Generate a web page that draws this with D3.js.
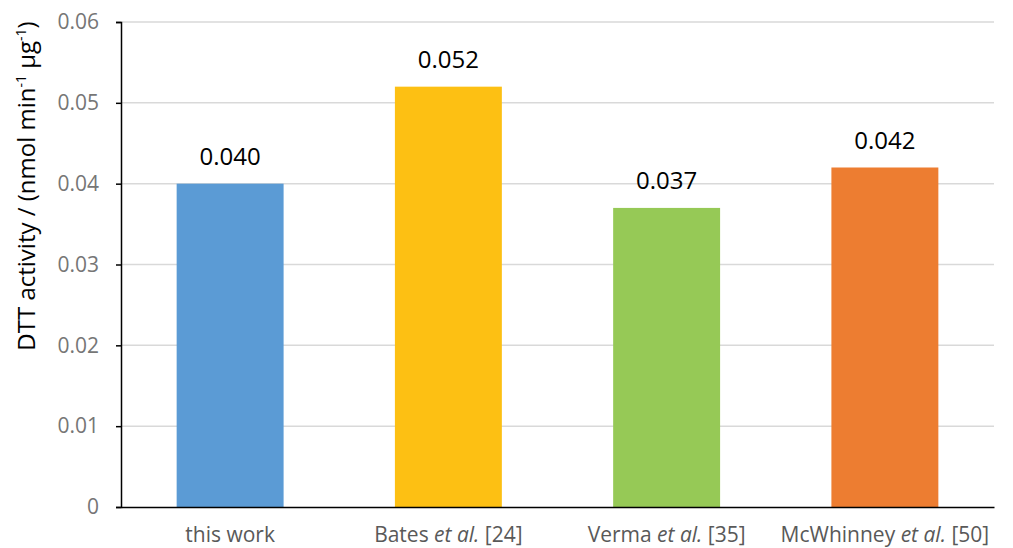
<!DOCTYPE html>
<html>
<head>
<meta charset="utf-8">
<script src="https://cdn.jsdelivr.net/npm/d3@7/dist/d3.min.js"></script>
<style>
  html, body { margin: 0; padding: 0; background: #fff; }
  svg { display: block; font-family: "Open Sans", sans-serif; }
</style>
</head>
<body>
<svg id="chart" width="1013" height="548"></svg>
<script>
// Category labels: [plain author, italic part, reference]
const categories = ["this work", "Bates", "Verma", "McWhinney"];
const labelParts = [
  ["this work", "", ""],
  ["Bates ", "et al.", " [24]"],
  ["Verma ", "et al.", " [35]"],
  ["McWhinney ", "et al.", " [50]"]
];
const values = [0.040, 0.052, 0.037, 0.042];
const valueLabels = ["0.040", "0.052", "0.037", "0.042"];
const barColors = ["#5B9BD5", "#FDC013", "#96C956", "#ED7D31"];
const yTicks = [0, 0.01, 0.02, 0.03, 0.04, 0.05, 0.06];

const svg = d3.select("#chart");
const margin = { left: 121, right: 19, top: 22, bottom: 41 };
const W = 1013, H = 548;

const x = d3.scaleBand()
  .domain(categories)
  .range([margin.left, W - margin.right])
  .paddingInner(0.51)
  .paddingOuter(0.255);

const y = d3.scaleLinear()
  .domain([0, 0.06])
  .range([H - margin.bottom, margin.top]);

// horizontal gridlines
svg.append("g")
  .selectAll("line")
  .data(yTicks.slice(1))
  .join("line")
  .attr("x1", margin.left)
  .attr("x2", W - margin.right)
  .attr("y1", d => y(d))
  .attr("y2", d => y(d))
  .attr("stroke", "#D9D9D9")
  .attr("stroke-width", 1.5);

// bars
svg.append("g")
  .selectAll("rect")
  .data(values)
  .join("rect")
  .attr("x", (d, i) => x(categories[i]))
  .attr("width", x.bandwidth())
  .attr("y", d => y(d))
  .attr("height", d => y(0) - y(d))
  .attr("fill", (d, i) => barColors[i]);

// value labels above bars
svg.append("g")
  .selectAll("text")
  .data(values)
  .join("text")
  .attr("x", (d, i) => x(categories[i]) + x.bandwidth() / 2)
  .attr("y", d => y(d) - 19)
  .attr("text-anchor", "middle")
  .attr("font-size", 24)
  .attr("fill", "#000")
  .text((d, i) => valueLabels[i]);

// y axis
const yAxis = svg.append("g")
  .attr("transform", `translate(${margin.left},0)`)
  .call(d3.axisLeft(y).tickValues(yTicks).tickSize(5).tickPadding(17)
    .tickFormat(d => d === 0 ? "0" : d3.format(".2f")(d)));
yAxis.select(".domain").attr("stroke", "#000").attr("stroke-width", 1.5);
yAxis.selectAll(".tick line").attr("stroke", "#000").attr("stroke-width", 1.5);
yAxis.selectAll(".tick text")
  .attr("font-size", 21)
  .attr("fill", "#767676")
  .attr("font-family", "Open Sans, sans-serif");

// x axis baseline and category labels
const xAxis = svg.append("g")
  .attr("transform", `translate(0,${y(0)})`)
  .call(d3.axisBottom(x).tickSize(0).tickPadding(0).tickFormat(""));
xAxis.select(".domain").attr("stroke", "#000").attr("stroke-width", 1.5);

const xl = svg.append("g")
  .selectAll("text")
  .data(categories)
  .join("text")
  .attr("x", d => x(d) + x.bandwidth() / 2)
  .attr("y", H - 6)
  .attr("text-anchor", "middle")
  .attr("font-size", 21)
  .attr("fill", "#595959");
xl.each(function(d, i) {
  const t = d3.select(this);
  const [a, b, c] = labelParts[i];
  t.append("tspan").text(a);
  if (b) t.append("tspan").attr("font-style", "italic").text(b);
  if (c) t.append("tspan").text(c);
});

// y axis title
const title = svg.append("text")
  .attr("transform", "translate(35,186) rotate(-90)")
  .attr("text-anchor", "middle")
  .attr("font-size", 24)
  .attr("fill", "#000");
title.append("tspan").text("DTT activity / (nmol min");
title.append("tspan").attr("font-size", 14).attr("dy", -9).text("-1");
title.append("tspan").attr("dy", 9).text(" µg");
title.append("tspan").attr("font-size", 14).attr("dy", -9).text("-1");
title.append("tspan").attr("dy", 9).text(")");
</script>
</body>
</html>
